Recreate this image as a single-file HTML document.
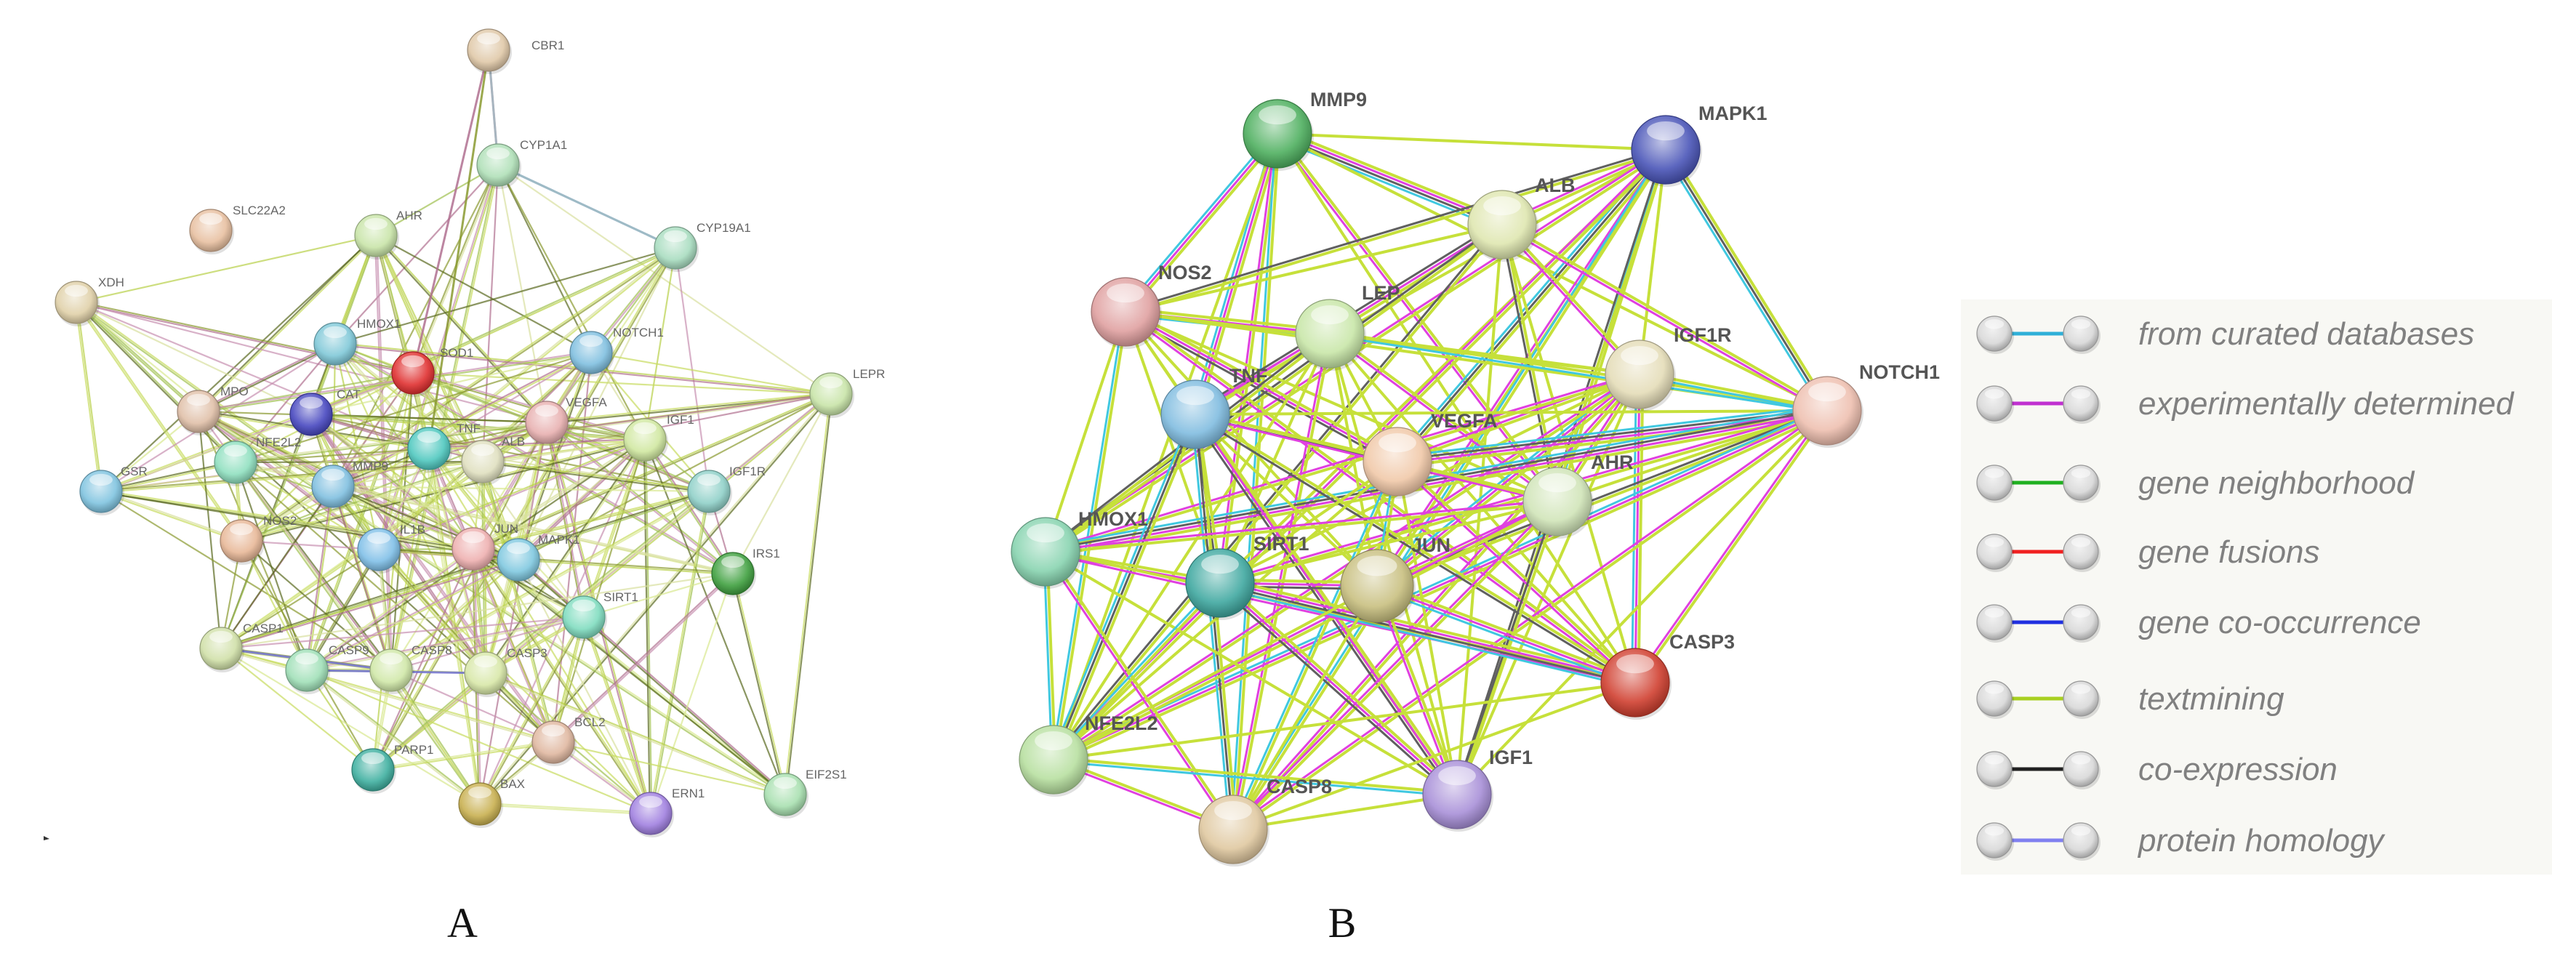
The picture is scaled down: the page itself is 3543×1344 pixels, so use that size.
<!DOCTYPE html>
<html><head><meta charset="utf-8"><style>
html,body{margin:0;padding:0;background:#fff;}
svg{display:block}
.la{font-family:"Liberation Sans",sans-serif;font-size:17px;fill:#666;}
.lb{font-family:"Liberation Sans",sans-serif;font-size:27px;fill:#555;font-weight:bold;}
.lg{font-family:"Liberation Sans",sans-serif;font-size:44px;fill:#808080;font-style:italic;}
.cap{font-family:"Liberation Serif",serif;font-size:58px;fill:#111;}
</style></head><body>
<svg id="s" width="3543" height="1344" viewBox="0 0 3543 1344" xmlns="http://www.w3.org/2000/svg">
<defs id="d"></defs>
<g id="ea"></g><g id="eb"></g><g id="na"></g><g id="nb"></g>
<rect x="2697" y="412" width="813" height="791" fill="#f8f8f4"/>
<g id="lgd"></g>
<g>
<text class="la" x="731" y="68">CBR1</text>
<text class="la" x="715" y="205">CYP1A1</text>
<text class="la" x="320" y="295">SLC22A2</text>
<text class="la" x="545" y="302">AHR</text>
<text class="la" x="958" y="319">CYP19A1</text>
<text class="la" x="135" y="394">XDH</text>
<text class="la" x="491" y="451">HMOX1</text>
<text class="la" x="605" y="491">SOD1</text>
<text class="la" x="843" y="463">NOTCH1</text>
<text class="la" x="1173" y="520">LEPR</text>
<text class="la" x="303" y="544">MPO</text>
<text class="la" x="463" y="548">CAT</text>
<text class="la" x="778" y="559">VEGFA</text>
<text class="la" x="917" y="583">IGF1</text>
<text class="la" x="352" y="614">NFE2L2</text>
<text class="la" x="628" y="595">TNF</text>
<text class="la" x="690" y="613">ALB</text>
<text class="la" x="485" y="647">MMP9</text>
<text class="la" x="166" y="654">GSR</text>
<text class="la" x="1003" y="654">IGF1R</text>
<text class="la" x="362" y="722">NOS2</text>
<text class="la" x="550" y="734">IL1B</text>
<text class="la" x="680" y="733">JUN</text>
<text class="la" x="740" y="748">MAPK1</text>
<text class="la" x="1035" y="767">IRS1</text>
<text class="la" x="830" y="827">SIRT1</text>
<text class="la" x="334" y="870">CASP1</text>
<text class="la" x="452" y="900">CASP9</text>
<text class="la" x="566" y="900">CASP8</text>
<text class="la" x="697" y="904">CASP3</text>
<text class="la" x="790" y="999">BCL2</text>
<text class="la" x="542" y="1037">PARP1</text>
<text class="la" x="688" y="1084">BAX</text>
<text class="la" x="924" y="1097">ERN1</text>
<text class="la" x="1108" y="1071">EIF2S1</text>
</g>
<g>
<text class="lb" x="1802" y="146">MMP9</text>
<text class="lb" x="2336" y="165">MAPK1</text>
<text class="lb" x="2111" y="264">ALB</text>
<text class="lb" x="1593" y="384">NOS2</text>
<text class="lb" x="1873" y="412">LEP</text>
<text class="lb" x="2302" y="470">IGF1R</text>
<text class="lb" x="2557" y="521">NOTCH1</text>
<text class="lb" x="1691" y="526">TNF</text>
<text class="lb" x="1968" y="588">VEGFA</text>
<text class="lb" x="2188" y="645">AHR</text>
<text class="lb" x="1483" y="723">HMOX1</text>
<text class="lb" x="1724" y="757">SIRT1</text>
<text class="lb" x="1941" y="759">JUN</text>
<text class="lb" x="2296" y="892">CASP3</text>
<text class="lb" x="1492" y="1004">NFE2L2</text>
<text class="lb" x="2048" y="1051">IGF1</text>
<text class="lb" x="1742" y="1091">CASP8</text>
</g>
<g>
<text class="lg" x="2941" y="474">from curated databases</text>
<text class="lg" x="2941" y="570">experimentally determined</text>
<text class="lg" x="2941" y="679">gene neighborhood</text>
<text class="lg" x="2941" y="774">gene fusions</text>
<text class="lg" x="2941" y="871">gene co-occurrence</text>
<text class="lg" x="2941" y="976">textmining</text>
<text class="lg" x="2941" y="1073">co-expression</text>
<text class="lg" x="2941" y="1171">protein homology</text>
</g>
<text class="cap" x="636" y="1289" text-anchor="middle">A</text>
<text class="cap" x="1846" y="1289" text-anchor="middle">B</text>
<path d="M60 1150 l8 4 -8 2z" fill="#333"/>
</svg>
<script>
var NS="http://www.w3.org/2000/svg";
function el(t,a,p){var e=document.createElementNS(NS,t);for(var k in a)e.setAttribute(k,a[k]);p.appendChild(e);return e;}
var defs=document.getElementById('d');
var seed=12345;function rnd(){seed=(seed*1103515245+12345)%2147483648;return seed/2147483648;}
var gi=0;
function shade(c,f){var n=parseInt(c.slice(1),16),r=n>>16,g=(n>>8)&255,b=n&255;
 if(f<0){r=r*(1+f);g=g*(1+f);b=b*(1+f);}else{r=r+(255-r)*f;g=g+(255-g)*f;b=b+(255-b)*f;}
 return 'rgb('+Math.round(r)+','+Math.round(g)+','+Math.round(b)+')';}
function sphere(x,y,r,c,p){var id='g'+(gi++);
 var g=el('radialGradient',{id:id,cx:'45%',cy:'38%',r:'62%'},defs);
 el('stop',{offset:'0',"stop-color":shade(c,0.65)},g);
 el('stop',{offset:'0.65',"stop-color":shade(c,0.1)},g);
 el('stop',{offset:'1',"stop-color":shade(c,-0.25)},g);
 el('circle',{cx:x+2,cy:y+3,r:r+1,fill:'rgba(0,0,0,0.12)'},p);
 el('circle',{cx:x,cy:y,r:r,fill:'url(#'+id+')',stroke:shade(c,-0.3),"stroke-width":1.2},p);
 el('ellipse',{cx:x,cy:y-r*0.55,rx:r*0.55,ry:r*0.28,fill:'rgba(255,255,255,0.5)'},p);}
var A={CBR1:[672,69,'#e0c8a8'],CYP1A1:[685,227,'#b0e0b8'],SLC22A2:[290,317,'#e8c0a0'],AHR:[517,324,'#c8e4a8'],CYP19A1:[929,341,'#a8dcc0'],XDH:[105,416,'#e0d0a8'],HMOX1:[461,473,'#80c8d8'],SOD1:[568,513,'#e03030'],NOTCH1:[813,485,'#80c0e0'],LEPR:[1143,542,'#c8e4a8'],MPO:[273,566,'#e0c0a8'],CAT:[428,570,'#4848c0'],VEGFA:[752,581,'#e8b0b0'],IGF1:[887,605,'#d0e8a0'],NFE2L2:[324,636,'#90e0c0'],TNF:[590,617,'#50c8c0'],ALB:[664,635,'#e0e0c0'],MMP9:[458,669,'#80c0e0'],GSR:[139,676,'#80c4e0'],IGF1R:[975,676,'#90d0c8'],NOS2:[332,744,'#e8b898'],IL1B:[521,756,'#80c0e8'],JUN:[651,755,'#eeb0b0'],MAPK1:[713,770,'#80c8e0'],IRS1:[1008,789,'#40a040'],SIRT1:[803,849,'#80dcc0'],CASP1:[304,892,'#d0e0a8'],CASP9:[422,922,'#a0e0b8'],CASP8:[538,922,'#d0e8a8'],CASP3:[668,926,'#d8e8a8'],BCL2:[761,1021,'#e0b8a0'],PARP1:[513,1059,'#40b0a0'],BAX:[660,1106,'#c8b050'],ERN1:[895,1119,'#a080e0'],EIF2S1:[1080,1093,'#a8e0b0']};
var ea=document.getElementById('ea');
var pa=['#c8dc60','#d8e890','#b8d048','#8a9a30','#c890b0','#5a6a20','#a0c050','#d8e0a0','#b07090','#c8dc60'];
var ka=Object.keys(A).filter(function(k){return k!='SLC22A2'&&k!='CBR1';});
for(var i=0;i<ka.length;i++)for(var j=i+1;j<ka.length;j++){var a=A[ka[i]],b=A[ka[j]];
 var d=Math.hypot(a[0]-b[0],a[1]-b[1]);var pr=d<350?0.85:(d<600?0.5:0.15);
 if(rnd()<pr){var n=1+Math.floor(rnd()*2);for(var m=0;m<n;m++){var o=(m-0.5*(n-1))*2.5;var dx=-(b[1]-a[1])/d*o,dy=(b[0]-a[0])/d*o;
 el('line',{x1:a[0]+dx,y1:a[1]+dy,x2:b[0]+dx,y2:b[1]+dy,stroke:pa[Math.floor(rnd()*pa.length)],"stroke-width":2.2,"stroke-opacity":0.7},ea);}}}
[['CBR1','CYP1A1','#c890b0'],['CBR1','CYP1A1','#a0b8c0'],['CBR1','SOD1','#b07090'],['CBR1','TNF','#8a9a30'],['CYP1A1','CYP19A1','#8090e0'],['CYP1A1','CYP19A1','#a0c0c0'],['CASP1','CASP8','#7070d0'],['CASP9','CASP3','#7070d0']].forEach(function(e){var a=A[e[0]],b=A[e[1]];
 el('line',{x1:a[0],y1:a[1],x2:b[0],y2:b[1],stroke:e[2],"stroke-width":3,"stroke-opacity":0.85},ea);});
var na=document.getElementById('na');
for(var k in A)sphere(A[k][0],A[k][1],29,A[k][2],na);
var B={MMP9:[1757,184,'#4fb060'],MAPK1:[2291,206,'#4a55b8'],ALB:[2066,309,'#dfe6b0'],NOS2:[1548,429,'#e0a0a0'],LEP:[1829,459,'#c8e6a8'],IGF1R:[2255,515,'#e4dcb8'],NOTCH1:[2513,565,'#eec0b0'],TNF:[1644,570,'#80bce0'],VEGFA:[1922,635,'#f0c8a8'],AHR:[2142,690,'#d0e4b8'],HMOX1:[1438,759,'#88d4b0'],SIRT1:[1678,802,'#40a8a0'],JUN:[1894,806,'#c8c080'],CASP3:[2249,939,'#d04030'],NFE2L2:[1449,1045,'#b8e0a0'],IGF1:[2004,1093,'#a890d8'],CASP8:[1696,1141,'#e0c8a0']};
var eb=document.getElementById('eb');var kb=Object.keys(B);
for(var i=0;i<kb.length;i++)for(var j=i+1;j<kb.length;j++){var a=B[kb[i]],b=B[kb[j]];
 if(rnd()<0.12)continue;var d=Math.hypot(a[0]-b[0],a[1]-b[1]);
 var ls=['#c6e03a'];if(rnd()<0.4)ls.push('#e040e0');if(rnd()<0.2)ls.push('#606060');if(rnd()<0.18)ls.push('#40c8e0');
 for(var m=0;m<ls.length;m++){var o=(m-0.5*(ls.length-1))*4.5;var dx=-(b[1]-a[1])/d*o,dy=(b[0]-a[0])/d*o;
 el('line',{x1:a[0]+dx,y1:a[1]+dy,x2:b[0]+dx,y2:b[1]+dy,stroke:ls[m],"stroke-width":m==0?4:3},eb);}}
var nb=document.getElementById('nb');
for(var k in B)sphere(B[k][0],B[k][1],k=='JUN'?50:47,B[k][2],nb);
var lgd=document.getElementById('lgd');
var ly=[459,555,664,759,856,961,1058,1156],lc=['#30b0d8','#c030d0','#20b020','#f02020','#2030e0','#a8d020','#202020','#8080f0'];
for(var i=0;i<8;i++){el('line',{x1:2760,y1:ly[i],x2:2845,y2:ly[i],stroke:lc[i],"stroke-width":5},lgd);
 sphere(2743,ly[i],24,'#d8d8d8',lgd);sphere(2862,ly[i],24,'#d8d8d8',lgd);}
</script>
</body></html>
